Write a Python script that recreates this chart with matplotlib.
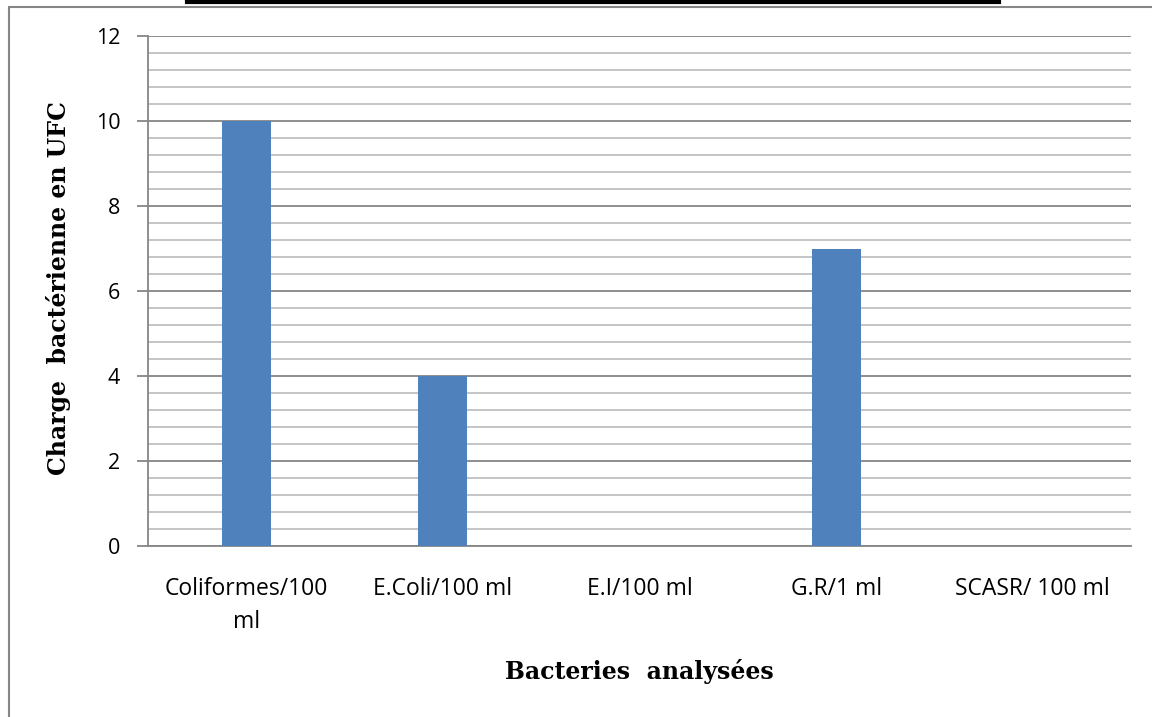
import matplotlib.pyplot as plt
import matplotlib.patches as mpatches
from matplotlib.lines import Line2D
from matplotlib.ticker import MultipleLocator
import numpy as np

# données
categories = ['Coliformes/100\nml', 'E.Coli/100 ml', 'E.I/100 ml', 'G.R/1 ml', 'SCASR/ 100 ml']
valeurs = [10, 4, 0, 7, 0]
ylabel = 'Charge  bactérienne en UFC'
xlabel = 'Bacteries  analysées'

W, H = 1152, 717
fig = plt.figure(figsize=(W / 100, H / 100), dpi=100)

# zone du graphique (en pixels)
left, right, top, bottom = 148, 1131, 36, 546
ax = fig.add_axes([left / W, 1 - bottom / H, (right - left) / W, (bottom - top) / H])

x = np.arange(len(categories))
ax.bar(x, valeurs, width=0.25, color='#4F81BD', zorder=3)

ax.set_xlim(-0.5, len(categories) - 0.5)
ax.set_ylim(0, 12)
ax.yaxis.set_major_locator(MultipleLocator(2))
ax.yaxis.set_minor_locator(MultipleLocator(0.4))

# grilles
ax.grid(True, which='major', axis='y', color='#868686', linewidth=1.3, zorder=1)
ax.grid(True, which='minor', axis='y', color='#c0c0c0', linewidth=1.3, zorder=1)
ax.set_axisbelow(True)

for s in ['top', 'right']:
    ax.spines[s].set_visible(False)
for s in ['left', 'bottom']:
    ax.spines[s].set_color('#868686')
    ax.spines[s].set_linewidth(1.3)

ax.set_xticks(x)
ax.set_xticklabels(categories, fontsize=16.5, family='Open Sans', linespacing=1.5)
ax.tick_params(axis='x', length=0, pad=22)
ax.tick_params(axis='y', which='major', length=8, width=1.3, color='#868686',
               labelsize=15.5, pad=12)
ax.tick_params(axis='y', which='minor', length=0)
for lab in ax.get_yticklabels():
    lab.set_family('Open Sans')

# titres des axes
fig.text(59 / W, 1 - 288 / H, ylabel, fontsize=17, fontweight='bold',
         family='DejaVu Serif', rotation=90, ha='center', va='center')
fig.text(639 / W, 1 - 672 / H, xlabel, fontsize=17, fontweight='bold',
         family='DejaVu Serif', ha='center', va='center')

# cadre du graphique et trait du titre coupé
fig.patches.append(mpatches.Rectangle((9 / W, -0.1), 1.2, 1 - 7 / H + 0.1,
                                      transform=fig.transFigure, fill=False,
                                      edgecolor='#868686', linewidth=1.5))
fig.lines.append(Line2D([187 / W, 999 / W], [1 - 1.5 / H, 1 - 1.5 / H],
                        transform=fig.transFigure, color='black', linewidth=3))

fig.savefig('out.png', dpi=100)
